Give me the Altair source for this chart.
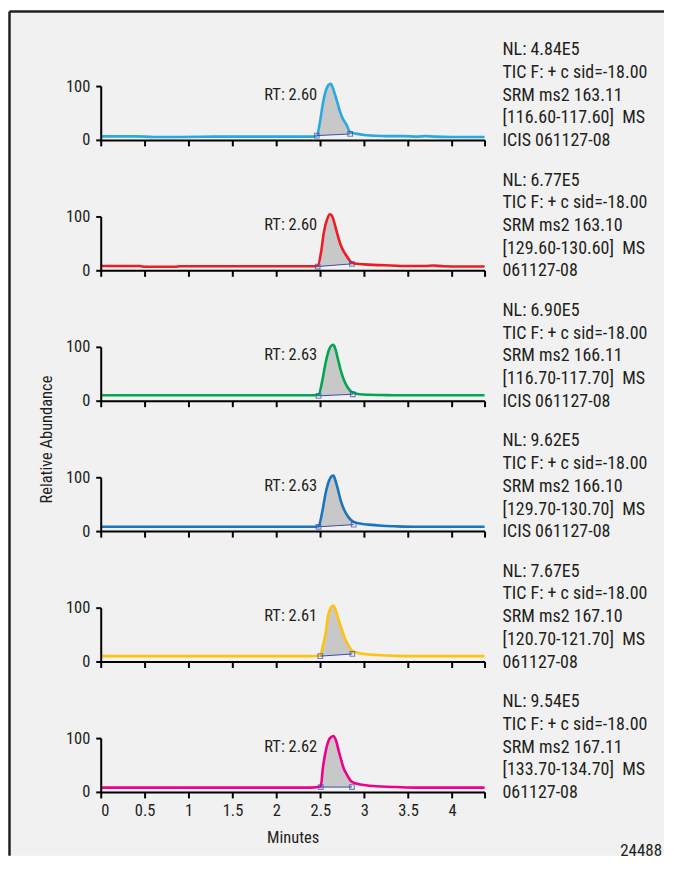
import altair as alt
import pandas as pd

FONT = "Roboto Condensed, DejaVu Sans Condensed, sans-serif"
W = 385
H = 54
XMAX = 4.37

# ---- data -------------------------------------------------------------
COLORS = ["#27aae1", "#ed1c24", "#00a651", "#1b75bc", "#ffc20e", "#ec008c"]
RT_LABELS = ["RT: 2.60", "RT: 2.60", "RT: 2.63", "RT: 2.63", "RT: 2.61", "RT: 2.62"]
INFO = [
    ["NL: 4.84E5", "TIC F: + c sid=-18.00", "SRM ms2 163.11", "[116.60-117.60]\u00a0\u00a0MS", "ICIS 061127-08"],
    ["NL: 6.77E5", "TIC F: + c sid=-18.00", "SRM ms2 163.10", "[129.60-130.60]\u00a0\u00a0MS", "061127-08"],
    ["NL: 6.90E5", "TIC F: + c sid=-18.00", "SRM ms2 166.11", "[116.70-117.70]\u00a0\u00a0MS", "ICIS 061127-08"],
    ["NL: 9.62E5", "TIC F: + c sid=-18.00", "SRM ms2 166.10", "[129.70-130.70]\u00a0\u00a0MS", "ICIS 061127-08"],
    ["NL: 7.67E5", "TIC F: + c sid=-18.00", "SRM ms2 167.10", "[120.70-121.70]\u00a0\u00a0MS", "061127-08"],
    ["NL: 9.54E5", "TIC F: + c sid=-18.00", "SRM ms2 167.11", "[133.70-134.70]\u00a0\u00a0MS", "061127-08"],
]

T1 = [0.0, 0.4, 0.6, 0.9, 1.3, 1.8, 2.2, 2.40, 2.46, 2.50, 2.53, 2.57, 2.60, 2.62, 2.64, 2.66,
      2.69, 2.72, 2.76, 2.80, 2.84, 2.90, 3.00, 3.10, 3.25, 3.45, 3.60, 3.70, 3.80, 4.00, 4.20, 4.37]
V1 = [6.5, 6.5, 5.5, 5.5, 6, 6, 6, 6, 8, 37, 68, 95, 103, 104, 98, 88,
      72, 55, 38, 28, 14, 12, 9, 8, 7, 7, 6, 7, 6, 5.5, 5.5, 5.5]
SQ1 = [(2.46, 8), (2.84, 11)]

T2 = [0.0, 0.45, 0.5, 0.85, 0.9, 1.5, 2.0, 2.40, 2.47, 2.51, 2.54, 2.58, 2.61, 2.63, 2.65, 2.67,
      2.70, 2.73, 2.77, 2.81, 2.86, 2.92, 3.00, 3.10, 3.30, 3.50, 3.70, 3.78, 3.90, 4.10, 4.37]
V2 = [8, 8, 6.5, 6.5, 7.5, 7.5, 7.5, 7.5, 8, 35, 70, 96, 104, 102, 94, 82,
      64, 48, 34, 24, 14, 12, 11, 10, 9, 8, 8, 9, 7.5, 7, 7]
SQ2 = [(2.47, 7), (2.86, 12)]

T3 = [0.0, 0.5, 1.0, 1.5, 2.0, 2.40, 2.48, 2.52, 2.56, 2.60, 2.63, 2.65, 2.67, 2.70, 2.73,
      2.77, 2.81, 2.87, 2.95, 3.05, 3.20, 3.40, 3.70, 4.00, 4.37]
V3 = [10, 10, 10, 10, 10, 10, 11, 35, 70, 95, 103, 104, 97, 78, 58,
      38, 25, 15, 12, 11, 10.5, 10, 10, 10, 10]
SQ3 = [(2.48, 9), (2.87, 12)]

T4 = [0.0, 0.5, 1.0, 1.5, 2.0, 2.40, 2.48, 2.52, 2.56, 2.60, 2.63, 2.65, 2.67, 2.70, 2.73,
      2.77, 2.82, 2.88, 2.95, 3.05, 3.20, 3.35, 3.60, 4.00, 4.37]
V4 = [8, 8, 8, 8, 8, 8, 9, 34, 70, 94, 102, 103, 95, 78, 58,
      40, 26, 17, 14, 12, 10, 9, 8, 8, 8]
SQ4 = [(2.48, 8), (2.88, 12)]

T5 = [0.0, 0.5, 1.0, 1.5, 2.0, 2.40, 2.50, 2.53, 2.56, 2.59, 2.62, 2.645, 2.67, 2.70, 2.74,
      2.78, 2.82, 2.865, 2.93, 3.00, 3.15, 3.38, 3.60, 4.00, 4.37]
V5 = [10, 10, 10, 10, 10, 10, 11, 30, 52, 86, 100, 104, 98, 82, 62,
      43, 30, 20, 16, 14, 12, 10.5, 10, 10, 10]
SQ5 = [(2.50, 10), (2.865, 14)]

T6 = [0.0, 0.5, 1.0, 1.5, 2.0, 2.40, 2.505, 2.53, 2.57, 2.61, 2.65, 2.68, 2.71, 2.74, 2.77,
      2.80, 2.84, 2.86, 2.92, 3.00, 3.10, 3.20, 3.37, 3.60, 4.00, 4.37]
V6 = [8, 8, 8, 8, 8, 8, 10, 45, 82, 100, 104, 95, 76, 58, 42,
      33, 22, 19, 15, 13, 11, 10, 9, 8, 8, 8]
SQ6 = [(2.505, 9), (2.86, 9)]

RT_POS = (2.465, 84)   # anchor of the "RT:" annotation (data units)
X_TICKS = [0, 0.5, 1, 1.5, 2, 2.5, 3, 3.5, 4, XMAX]

TRACES = [(T1, V1, SQ1), (T2, V2, SQ2), (T3, V3, SQ3),
          (T4, V4, SQ4), (T5, V5, SQ5), (T6, V6, SQ6)]

TXT = "#231f20"
BASE_COLOR = "#3b4fa3"
FS = 16.5
FS_INFO = 18


def panel(i):
    t, v, sq = TRACES[i]
    color = COLORS[i]
    last = i == len(TRACES) - 1
    df = pd.DataFrame({"t": t, "v": v})
    (t1, v1), (t2, v2) = sq
    seg = df[(df.t >= t1) & (df.t <= t2)].copy()
    seg["b"] = v1 + (seg.t - t1) * (v2 - v1) / (t2 - t1)
    sqdf = pd.DataFrame({"t": [t1, t2], "v": [v1, v2]})
    segdf = pd.DataFrame({"t": [t1], "v": [v1], "t2": [t2], "v2": [v2]})
    one = pd.DataFrame({"a": [0]})

    xaxis = alt.Axis(values=X_TICKS, labels=last, zindex=1,
                     labelExpr="datum.value > 4.2 ? '' : format(datum.value, '~g')",
                     title="Minutes" if last else None,
                     tickSize=6, labelPadding=5, titlePadding=10)
    yaxis = alt.Axis(values=[0, 50, 100], tickSize=5, labelPadding=6, title=None, zindex=1)
    X = alt.X("t:Q", scale=alt.Scale(domain=[0, XMAX], nice=False, zero=False), axis=xaxis)
    Y = alt.Y("v:Q", scale=alt.Scale(domain=[0, 100], nice=False), axis=yaxis)

    layers = []
    if i == 0:
        # grey background with the frame on left and top
        layers.append(alt.Chart(one).mark_rect(fill="#f1f1f1").encode(
            x=alt.value(-91.5), x2=alt.value(565), y=alt.value(-74.8), y2=alt.value(772)))
        layers.append(alt.Chart(one).mark_rule(color=TXT, strokeWidth=2.5).encode(
            x=alt.value(-91.5), y=alt.value(-74.8), y2=alt.value(772)))
        layers.append(alt.Chart(one).mark_rule(color=TXT, strokeWidth=2.5).encode(
            x=alt.value(-91.5), x2=alt.value(565), y=alt.value(-74.8)))

    layers.append(alt.Chart(seg).mark_area(color="#c8c8c8", interpolate="monotone").encode(
        x=X, y=Y, y2="b:Q"))
    layers.append(alt.Chart(df).mark_line(color=color, strokeWidth=2.6,
                                          interpolate="monotone").encode(x=X, y=Y))
    layers.append(alt.Chart(segdf).mark_rule(color=BASE_COLOR, strokeWidth=1).encode(
        x=X, y=Y, x2="t2:Q", y2="v2:Q"))
    layers.append(alt.Chart(sqdf).mark_point(shape="square", filled=False, size=22,
                                             color=BASE_COLOR, strokeWidth=1.1).encode(x=X, y=Y))
    layers.append(alt.Chart(one).mark_text(text=RT_LABELS[i], align="right", baseline="middle",
                                           fontSize=FS, color=TXT, font=FONT).encode(
        x=alt.datum(RT_POS[0]), y=alt.datum(RT_POS[1])))
    layers.append(alt.Chart(one).mark_text(text=INFO[i], align="left", baseline="middle",
                                           fontSize=FS_INFO, lineHeight=22.8, color=TXT,
                                           font=FONT).encode(
        x=alt.value(W + 18), y=alt.value(-36)))
    if i == 2:
        layers.append(alt.Chart(one).mark_text(text="Relative Abundance", angle=270,
                                               align="center", baseline="middle",
                                               fontSize=FS, color=TXT, font=FONT).encode(
            x=alt.value(-53.5), y=alt.value(93)))
    if last:
        layers.append(alt.Chart(one).mark_text(text="24488", align="right", baseline="middle",
                                               fontSize=17, color=TXT, font=FONT).encode(
            x=alt.value(563), y=alt.value(113)))
    return alt.layer(*layers).properties(width=W, height=H)


chart = alt.vconcat(*[panel(i) for i in range(6)], spacing=76.8, bounds="flush").properties(
    padding={"top": 0, "left": 0, "right": 0, "bottom": 0}
).configure(
    font=FONT, background="white"
).configure_view(
    stroke=None
).configure_axis(
    grid=False,
    domainColor="black", domainWidth=2, tickColor="black", tickWidth=2,
    labelFont=FONT, labelFontSize=FS, labelColor=TXT,
    titleFont=FONT, titleFontSize=FS, titleFontWeight="normal", titleColor=TXT,
)

chart.save("out.html", embed_options={"renderer": "svg", "actions": False})
